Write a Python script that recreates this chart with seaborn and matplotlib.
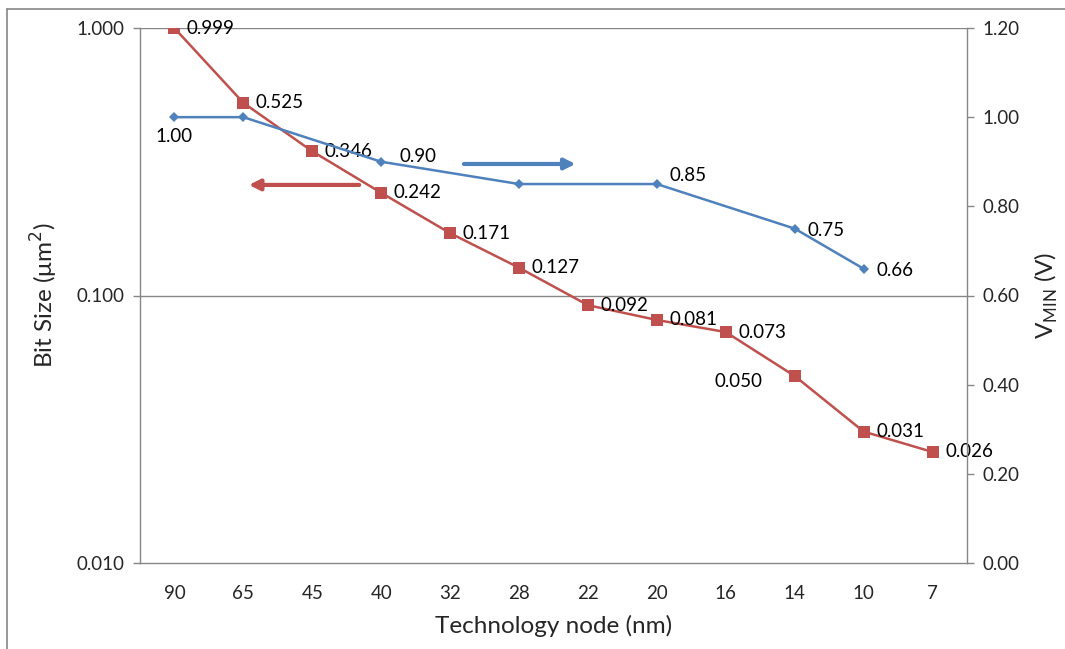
import matplotlib
matplotlib.use("Agg")
import matplotlib.pyplot as plt
import seaborn as sns
import pandas as pd
from matplotlib.lines import Line2D
from matplotlib.ticker import FixedLocator, NullFormatter, NullLocator

# ---------------- data ----------------
nodes = ["90", "65", "45", "40", "32", "28", "22", "20", "16", "14", "10", "7"]
bit_size = [0.999, 0.525, 0.346, 0.242, 0.171, 0.127, 0.092, 0.081, 0.073, 0.050, 0.031, 0.026]
bit_labels = ["0.999", "0.525", "0.346", "0.242", "0.171", "0.127", "0.092", "0.081", "0.073", "0.050", "0.031", "0.026"]

vmin_nodes = ["90", "65", "40", "28", "20", "14", "10"]
vmin = [1.00, 1.00, 0.90, 0.85, 0.85, 0.75, 0.66]
vmin_labels = ["1.00", "", "0.90", "", "0.85", "0.75", "0.66"]

left_ticks = [0.010, 0.100, 1.000]
left_ticklabels = ["0.010", "0.100", "1.000"]
right_ticks = [0.00, 0.20, 0.40, 0.60, 0.80, 1.00, 1.20]
right_ticklabels = ["0.00", "0.20", "0.40", "0.60", "0.80", "1.00", "1.20"]

# ---------------- style ----------------
sns.set_theme(style="white")
plt.rcParams["font.family"] = ["Lato", "DejaVu Sans"]

RED = "#C0504D"
BLUE = "#4F81BD"
GRAY = "#868686"
FS = 13.5
LFS = 17.5

pos = {n: i for i, n in enumerate(nodes)}
df_bits = pd.DataFrame({"x": [pos[n] for n in nodes], "y": bit_size})
df_v = pd.DataFrame({"x": [pos[n] for n in vmin_nodes], "y": vmin})

fig = plt.figure(figsize=(10.65, 6.49), dpi=100)
ax = fig.add_axes([140 / 1065, 1 - 563 / 649, (967 - 140) / 1065, (563 - 28) / 649])
ax2 = ax.twinx()

# figure border (chart area)
fig.add_artist(Line2D([7 / 1065, 1.0], [1 - 9 / 649, 1 - 9 / 649], color=GRAY, lw=1.2, transform=fig.transFigure))
fig.add_artist(Line2D([7 / 1065, 7 / 1065], [1 - 9 / 649, 0.0], color=GRAY, lw=1.2, transform=fig.transFigure))

# left axis: bit size (log)
sns.lineplot(data=df_bits, x="x", y="y", ax=ax, color=RED, lw=1.8, marker="s",
             markersize=8, markeredgewidth=0, markerfacecolor=RED, zorder=3)
ax.set_yscale("log")
ax.set_ylim(0.01, 1.0)
ax.set_xlim(-0.5, len(nodes) - 0.5)
ax.yaxis.set_major_locator(FixedLocator(left_ticks))
ax.set_yticklabels(left_ticklabels, fontsize=FS)
ax.yaxis.set_minor_locator(NullLocator())
ax.yaxis.set_minor_formatter(NullFormatter())
ax.set_xticks(range(len(nodes)))
ax.set_xticklabels(nodes, fontsize=FS)
ax.set_xticks([i + 0.5 for i in range(-1, len(nodes))], minor=True)
ax.tick_params(axis="x", which="major", length=0, pad=16)
ax.tick_params(axis="x", which="minor", length=5, color=GRAY, width=1, direction="out")
ax.tick_params(axis="y", which="major", length=5, color=GRAY, width=1, direction="out", pad=6, left=True)
ax.grid(False)
for y in left_ticks[1:]:
    ax.axhline(y, color=GRAY, lw=1, zorder=0)

ax.set_xlabel("Technology node (nm)", fontsize=LFS, labelpad=9)
ax.set_ylabel("Bit Size (\u03bcm$^{2}$)", fontsize=LFS, labelpad=12)

for s in ["top", "right"]:
    ax.spines[s].set_visible(False)
for s in ["left", "bottom"]:
    ax.spines[s].set_color(GRAY)
    ax.spines[s].set_linewidth(1)

# right axis: Vmin
sns.lineplot(data=df_v, x="x", y="y", ax=ax2, color=BLUE, lw=1.8, marker="D",
             markersize=5, markeredgewidth=0, markerfacecolor=BLUE, zorder=3)
ax2.set_ylim(0, 1.2)
ax2.set_yticks(right_ticks)
ax2.set_yticklabels(right_ticklabels, fontsize=FS)
ax2.tick_params(axis="y", length=5, color=GRAY, width=1, direction="out", pad=6, right=True)
ax2.set_ylabel("V$_{\\mathregular{MIN}}$ (V)", fontsize=LFS, rotation=90, labelpad=10)
ax2.grid(False)
for s in ["top", "left", "bottom"]:
    ax2.spines[s].set_visible(False)
ax2.spines["right"].set_color(GRAY)
ax2.spines["right"].set_linewidth(1)
ax2.set_xlim(-0.5, len(nodes) - 0.5)
ax2.set_xlabel("")

# data labels - red
for i, (v, lab) in enumerate(zip(bit_size, bit_labels)):
    if lab == "0.050":
        ax.annotate(lab, (i, v), xytext=(-23, -4), textcoords="offset points",
                    ha="right", va="center", fontsize=FS, color="black")
    else:
        ax.annotate(lab, (i, v), xytext=(9, 0), textcoords="offset points",
                    ha="left", va="center", fontsize=FS, color="black")

# data labels - blue
blue_offsets = {"1.00": (0, -14, "center"), "0.90": (13, 4, "left"), "0.85": (9, 6, "left"),
                "0.75": (9, -1, "left"), "0.66": (9, -1, "left")}
for n, v, lab in zip(vmin_nodes, vmin, vmin_labels):
    if not lab:
        continue
    dx, dy, ha = blue_offsets[lab]
    ax2.annotate(lab, (pos[n], v), xytext=(dx, dy), textcoords="offset points",
                 ha=ha, va="center", fontsize=FS, color="black")

# direction arrows
ax2.annotate("", xy=(5.82, 0.895), xytext=(4.2, 0.895),
             arrowprops=dict(arrowstyle="-|>", color=BLUE, lw=3, mutation_scale=16, shrinkA=0, shrinkB=0))
ax2.annotate("", xy=(1.08, 0.848), xytext=(2.68, 0.848),
             arrowprops=dict(arrowstyle="-|>", color=RED, lw=3, mutation_scale=16, shrinkA=0, shrinkB=0))

fig.savefig("out.png", dpi=100)
